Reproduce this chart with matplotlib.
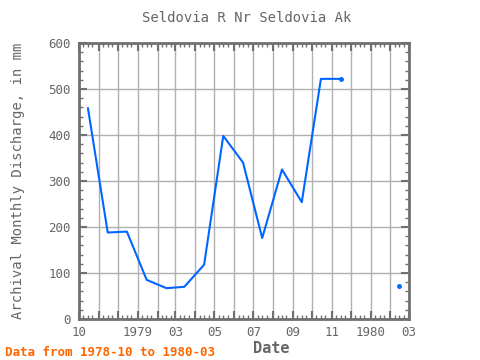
import matplotlib
matplotlib.use("Agg")
import matplotlib.pyplot as plt
import matplotlib.dates as mdates
import numpy as np
import datetime as dt

months = ["1978-10", "1978-11", "1978-12", "1979-01", "1979-02", "1979-03",
          "1979-04", "1979-05", "1979-06", "1979-07", "1979-08", "1979-09",
          "1979-10", "1979-11", "1979-12", "1980-01", "1980-02"]
values = [458, 188, 190, 85, 67, 70, 118, 398, 340, 176, 325, 254,
          522, 522, None, None, 72]
tick_labels = ["10", "1979", "03", "05", "07", "09", "11", "1980", "03"]
tick_months = ["1978-10", "1979-01", "1979-03", "1979-05", "1979-07",
               "1979-09", "1979-11", "1980-01", "1980-03"]

def mid(m):
    y, mo = map(int, m.split("-"))
    return dt.datetime(y, mo, 15)

def start(m):
    y, mo = map(int, m.split("-"))
    return dt.datetime(y, mo, 1)

x = [mid(m) for m in months]
y = np.array([np.nan if v is None else v for v in values], dtype=float)

gray = "#707070"
txt = "#666666"
blue = "#0066ff"
plt.rcParams['font.family'] = ['DejaVu Sans Mono']

fig = plt.figure(figsize=(4.8, 3.6), dpi=100)
ax = fig.add_axes([0.1646, 0.1139, 0.8521 - 0.1646, 0.8806 - 0.1139])

ax.plot(x, y, color=blue, lw=1.5)
for i in range(len(y)):
    prev_nan = i == 0 or np.isnan(y[i - 1])
    next_nan = i == len(y) - 1 or np.isnan(y[i + 1])
    if not np.isnan(y[i]) and prev_nan and next_nan:
        ax.plot([x[i]], [y[i]], 'o', color=blue, ms=2.5)
ax.plot([x[13]], [y[13]], 'o', color=blue, ms=2.5)

ax.set_xlim(start("1978-10"), start("1980-03"))
ax.set_ylim(0, 600)

ax.xaxis.set_major_locator(mdates.MonthLocator())
ax.xaxis.set_minor_locator(mdates.DayLocator(bymonthday=[8, 15, 22]))
ax.xaxis.set_major_formatter(matplotlib.ticker.NullFormatter())
ax.grid(True, which='major', color='#b0b0b0', lw=1)
ax.set_yticks([0, 100, 200, 300, 400, 500, 600])
ax.yaxis.set_minor_locator(matplotlib.ticker.MultipleLocator(20))
ax.set_yticklabels(["0", "100", "200", "300", "400", "500", "600"])

ax.tick_params(which='both', direction='in', top=True, right=True, color=gray)
ax.tick_params(which='major', length=6, width=1.5)
ax.tick_params(which='minor', length=3, width=1)
ax.tick_params(axis='y', labelsize=9, labelcolor=txt, pad=6)
ax.tick_params(axis='x', labelbottom=False)

for s in ax.spines.values():
    s.set_color(gray)
    s.set_linewidth(2)

for lab, m in zip(tick_labels, tick_months):
    ax.text(mdates.date2num(start(m)), -0.025, lab, transform=ax.get_xaxis_transform(),
            ha='center', va='top', fontsize=9, color=txt)

fig.text(0.5146, 0.95, "Seldovia R Nr Seldovia Ak", ha='center', va='center',
         fontsize=10, color=txt)
fig.text(0.038, 0.4986, "Archival Monthly Discharge, in mm", rotation=90,
         ha='center', va='center', fontsize=10, color=txt)
fig.text(0.5646, 0.033, "Date", ha='center', va='center', fontsize=11,
         color=txt, fontweight='bold')
fig.text(0.01, 0.022, "Data from 1978-10 to 1980-03", ha='left', va='center',
         fontsize=9, color='#ff6600', fontweight='bold')

fig.savefig("out.png", dpi=100)
